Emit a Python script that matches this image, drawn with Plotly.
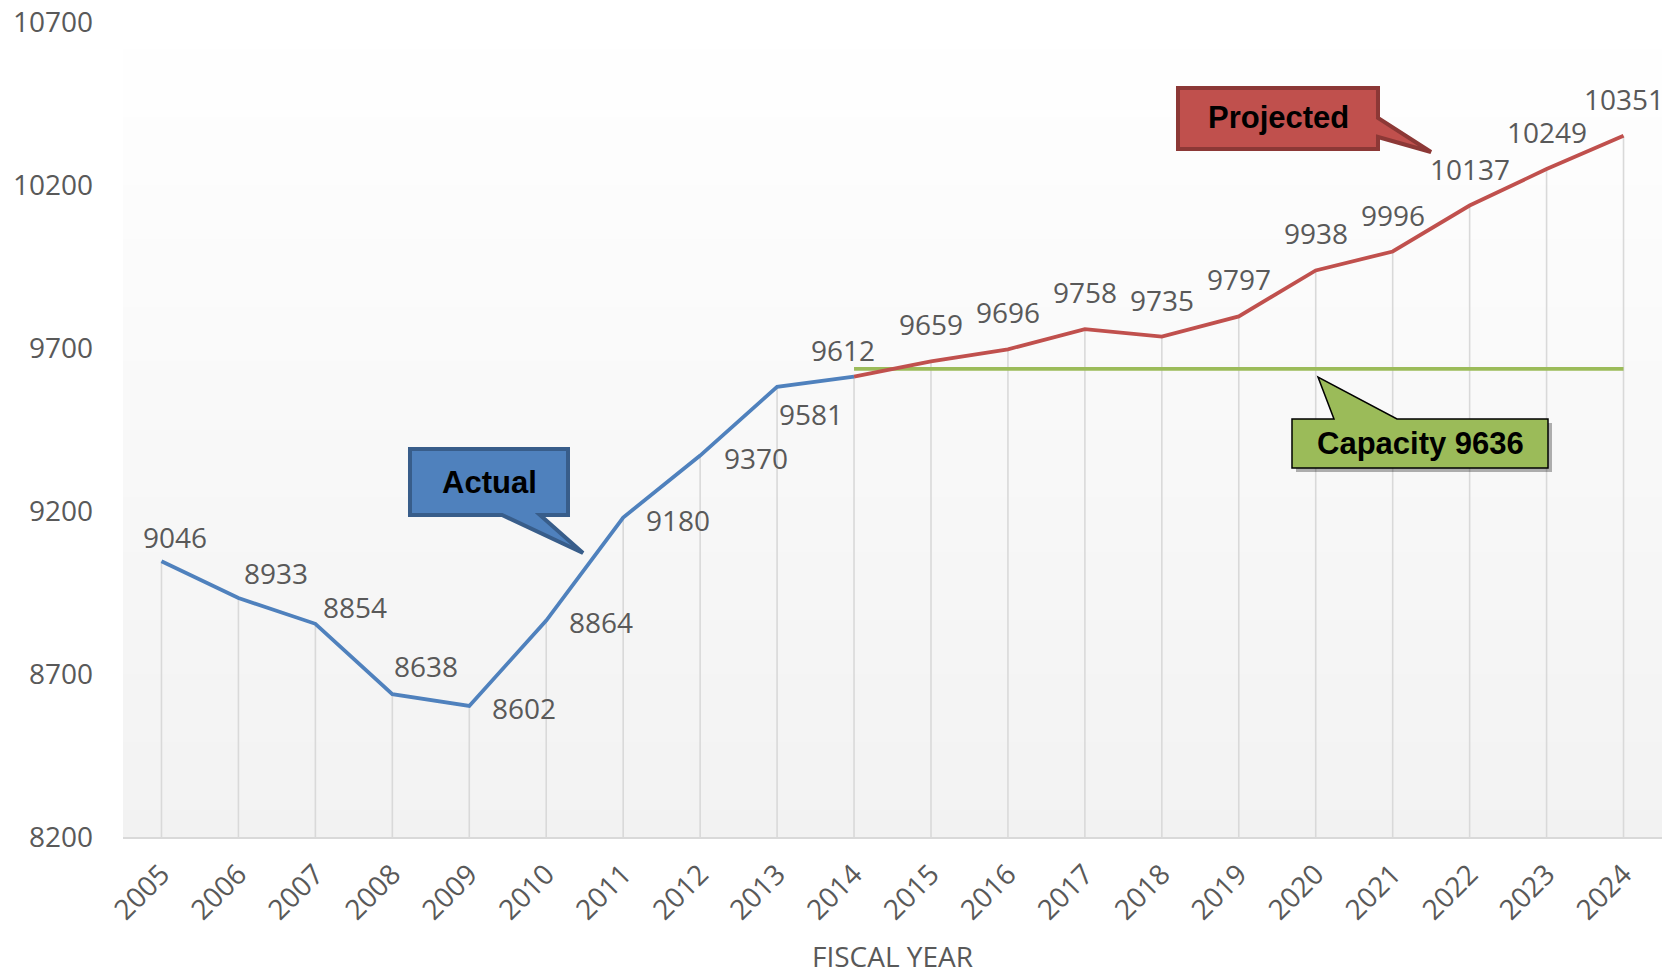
import plotly.graph_objects as go

# ---------------- data ----------------
years = [str(y) for y in range(2005, 2025)]
actual_years = years[:10]
actual_values = [9046, 8933, 8854, 8638, 8602, 8864, 9180, 9370, 9581, 9612]
projected_years = years[9:]
projected_values = [9612, 9659, 9696, 9758, 9735, 9797, 9938, 9996, 10137, 10249, 10351]
capacity_value = 9636
capacity_years = years[9:]
y_ticks = [8200, 8700, 9200, 9700, 10200, 10700]

# label offsets (px) per year: (xshift, yshift)
label_offsets = [(14, 24), (38, 25), (40, 17), (34, 28), (55, -2), (55, -1),
                 (55, -2), (56, -2), (34, -27), (-11, 27)] + [(0, 37)] * 10

# ---------------- layout geometry ----------------
W, H = 1680, 975
L, R, T, B = 123, 1662, 22, 837

def px(x, y):
    return (x - L) / (R - L), (B - y) / (B - T)

def path_from(points):
    s = ""
    for i, (x, y) in enumerate(points):
        xp, yp = px(x, y)
        s += ("M" if i == 0 else "L") + f"{xp:.5f},{yp:.5f} "
    return s + "Z"

GREY = "#595959"
FONT = "Open Sans"
FS = 28

fig = go.Figure()

# drop lines
all_values = actual_values[:-1] + projected_values
dx, dy = [], []
for yr, v in zip(years, all_values):
    dx += [yr, yr, None]
    dy += [v, y_ticks[0], None]
fig.add_trace(go.Scatter(x=dx, y=dy, mode="lines",
                         line=dict(color="#d9d9d9", width=1.6),
                         hoverinfo="skip", showlegend=False))

# capacity line
fig.add_trace(go.Scatter(x=capacity_years, y=[capacity_value] * len(capacity_years),
                         mode="lines", line=dict(color="#9BBB59", width=3.8),
                         showlegend=False, name="Capacity"))
# actual
fig.add_trace(go.Scatter(x=actual_years, y=actual_values, mode="lines",
                         line=dict(color="#4F81BD", width=3.8), showlegend=False,
                         name="Actual"))
# projected
fig.add_trace(go.Scatter(x=projected_years, y=projected_values, mode="lines",
                         line=dict(color="#C0504D", width=3.8), showlegend=False,
                         name="Projected"))

annotations = []
for i, (v, (xs, ys)) in enumerate(zip(all_values, label_offsets)):
    annotations.append(dict(x=i, y=v, xref="x", yref="y", text=str(v),
                            showarrow=False, xshift=xs, yshift=ys,
                            xanchor="center", yanchor="middle",
                            font=dict(family=FONT, size=FS, color=GREY)))

shapes = []
# gradient background
N = 60
for i in range(N):
    t0, t1 = i / N, (i + 1) / N
    c = round(242 + (255 - 242) * (t0 + t1) / 2)
    shapes.append(dict(type="rect", xref="paper", yref="paper", x0=0, x1=1,
                       y0=t0, y1=t1 + 0.002, fillcolor=f"rgb({c},{c},{c})",
                       line=dict(width=0), layer="below"))

# callouts
actual_pts = [(410, 449), (568, 449), (568, 515), (540, 515), (583, 553), (502, 515), (410, 515)]
proj_pts = [(1178, 88), (1378, 88), (1378, 118), (1431, 152), (1378, 137), (1378, 149), (1178, 149)]
cap_pts = [(1292, 419), (1334, 419), (1318, 377), (1397, 419), (1548, 419), (1548, 468), (1292, 468)]

shapes.append(dict(type="path", xref="paper", yref="paper",
                   path=path_from([(x + 4, y + 4) for x, y in cap_pts]),
                   fillcolor="rgba(0,0,0,0.3)", line=dict(width=0)))
shapes.append(dict(type="path", xref="paper", yref="paper", path=path_from(actual_pts),
                   fillcolor="#4F81BD", line=dict(color="#385D8A", width=4)))
shapes.append(dict(type="path", xref="paper", yref="paper", path=path_from(proj_pts),
                   fillcolor="#C0504D", line=dict(color="#8C3836", width=4)))
shapes.append(dict(type="path", xref="paper", yref="paper", path=path_from(cap_pts),
                   fillcolor="#9BBB59", line=dict(color="#000000", width=1.5)))

for text, (cx, cy) in [("Actual", (489, 482)), ("Projected", (1278, 118)),
                       ("Capacity 9636", (1420, 443))]:
    xp, yp = px(cx, cy)
    annotations.append(dict(x=xp, y=yp, xref="paper", yref="paper", text=f"<b>{text}</b>",
                            showarrow=False, xanchor="center", yanchor="middle",
                            font=dict(family="Liberation Sans", size=31, color="#000000")))

fig.update_layout(
    template="none",
    width=W, height=H,
    margin=dict(l=L, r=W - R, t=T, b=H - B),
    paper_bgcolor="white", plot_bgcolor="rgba(0,0,0,0)",
    shapes=shapes, annotations=annotations, showlegend=False,
    font=dict(family=FONT, color=GREY),
    xaxis=dict(type="category", categoryorder="array", categoryarray=years,
               range=[-0.5, len(years) - 0.5], showgrid=False, zeroline=False,
               showline=True, linecolor="#d9d9d9", linewidth=1.6, automargin=False,
               tickangle=-45, ticks="", ticklabelstandoff=8,
               tickfont=dict(family=FONT, size=FS, color=GREY),
               title=dict(text="FISCAL YEAR", standoff=30,
                          font=dict(family=FONT, size=FS, color=GREY))),
    yaxis=dict(range=[y_ticks[0], y_ticks[-1]], tickvals=y_ticks, tickformat="d",
               showgrid=False, zeroline=False, showline=False, ticks="",
               ticklabelstandoff=29, automargin=False,
               tickfont=dict(family=FONT, size=FS, color=GREY)),
)

fig.write_html("out.html", config={"displayModeBar": False},
               post_script="document.body.style.margin='0px';document.body.style.overflow='hidden';")
